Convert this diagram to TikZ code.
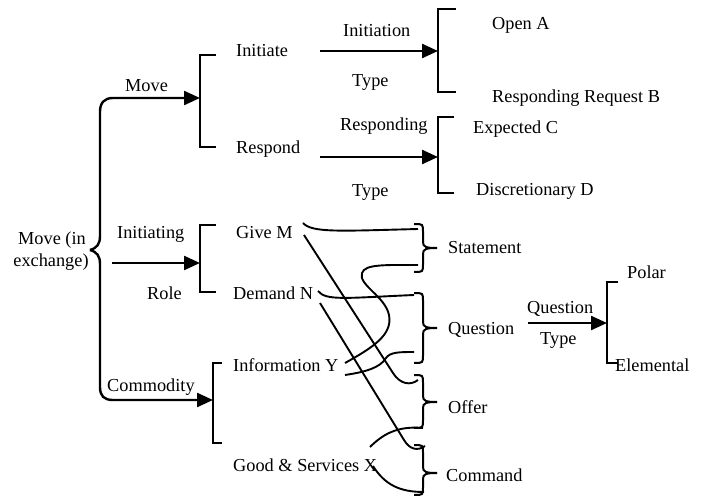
\documentclass[tikz,border=0pt]{standalone}
\usepackage{fontspec}
\setmainfont{Liberation Serif}
\usetikzlibrary{arrows.meta}
\begin{document}
\begin{tikzpicture}[x=1pt,y=-1pt,
  lbl/.style={anchor=base west,inner sep=0pt,font=\fontsize{18.3}{21}\selectfont},
  arr/.style={line width=2.4pt,-{Triangle[length=16pt,width=14pt]}},
  brk/.style={line width=2.2pt},
  brc/.style={line width=2pt},
  con/.style={line width=1.9pt}]
\useasboundingbox (0,0) rectangle (707,497);
\newcommand{\sqbr}[4]{\draw[brk] (#4,#2) -- (#1,#2) -- (#1,#3) -- (#4,#3);}
\newcommand{\crbr}[3]{%
  \draw[brc] (414,#1) .. controls (423,#1) .. (423,{#1+8}) -- (423,{#3-6}) .. controls (423,{#3-1}) and (426,#3) .. (437,#3);
  \draw[brc] (437,#3) .. controls (426,#3) and (423,{#3+1}) .. (423,{#3+6}) -- (423,{#2-8}) .. controls (423,#2) .. (414,#2);}

% texts
\node[lbl,anchor=base] (mv1) at (52,245) {Move (in};
\node[lbl,anchor=base] (mv2) at (51,266) {exchange)};
\node[lbl] (move) at (125,92) {Move};
\node[lbl] (init) at (236,57) {Initiate};
\node[lbl] (resp) at (236,154) {Respond};
\node[lbl] (initn) at (343,37) {Initiation};
\node[lbl] (type1) at (352,87) {Type};
\node[lbl] (respg) at (340,131) {Responding};
\node[lbl] (type2) at (352,197) {Type};
\node[lbl] (opena) at (492,30) {Open A};
\node[lbl] (rrb) at (492,103) {Responding Request B};
\node[lbl] (expc) at (473,134) {Expected C};
\node[lbl] (discd) at (476,196) {Discretionary D};
\node[lbl] (initg) at (117,239) {Initiating};
\node[lbl] (role) at (147,299) {Role};
\node[lbl] (give) at (236,239) {Give M};
\node[lbl] (dem) at (233,299) {Demand N};
\node[lbl] (info) at (233,371) {Information Y};
\node[lbl] (comm) at (107,391) {Commodity};
\node[lbl] (good) at (233,471) {Good \& Services X};
\node[lbl] (stat) at (448,254) {Statement};
\node[lbl] (ques) at (448,334) {Question};
\node[lbl] (offer) at (448,413) {Offer};
\node[lbl] (cmd) at (446,481) {Command};
\node[lbl] (qt1) at (527,313) {Question};
\node[lbl] (qt2) at (540,344) {Type};
\node[lbl] (polar) at (627,279) {Polar};
\node[lbl] (elem) at (615,371) {Elemental};

% square brackets
\sqbr{200}{55}{147}{216}
\sqbr{438}{9}{92}{456}
\sqbr{438}{117}{193}{454}
\sqbr{200}{225}{292}{216}
\sqbr{213}{363}{443}{222}
\sqbr{607}{282}{363}{618}

% curly braces
\crbr{224}{272}{248}
\crbr{293}{363}{328}
\crbr{375}{428}{402}
\crbr{445}{495}{473}

% coordinates
\coordinate (bt) at (90,250);
\coordinate (b1) at (200,98);
\coordinate (b2) at (438,51);
\coordinate (b3) at (438,157);
\coordinate (b4) at (200,263);
\coordinate (b5) at (213,400);
\coordinate (b6) at (607,323);
\coordinate (a1) at (320,51);
\coordinate (a2) at (320,157);
\coordinate (a4) at (112,263);
\coordinate (a6) at (528,323);

% left brace with arrows
\draw[arr] (bt) .. controls (97,248) and (100,244) .. (100,236) -- (100,112) .. controls (100,103) and (104,98) .. (113,98) -- (b1);
\draw[arr] (bt) .. controls (97,252) and (100,256) .. (100,264) -- (100,387) .. controls (100,396) and (104,400) .. (113,400) -- (b5);
\draw[arr] (a4) -- (b4);
\draw[arr] (a1) -- (b2);
\draw[arr] (a2) -- (b3);
\draw[arr] (a6) -- (b6);

% connectors
\coordinate (gA) at (303,223);
\coordinate (gB) at (304,235);
\coordinate (dA) at (318,291);
\coordinate (dB) at (320,303);
\coordinate (iA) at (345,363);
\coordinate (iB) at (345,375);
\coordinate (xA) at (370,447);
\coordinate (xB) at (373,466);
\coordinate (sT) at (418,229);
\coordinate (sB) at (418,265);
\coordinate (qT) at (414,295);
\coordinate (qB) at (414,352);
\coordinate (oT) at (418,380);
\coordinate (oB) at (423,428);
\coordinate (cT) at (425,446);
\coordinate (cB) at (424,492);

\draw[con] (gA) .. controls (312,233) and (340,231) .. (sT);
\draw[con] (gB) -- (393,373) .. controls (400,384) and (410,386) .. (oT);
\draw[con] (iA) .. controls (372,348) and (393,335) .. (389,315) .. controls (385,296) and (358,285) .. (362,273) .. controls (365,264) and (385,265) .. (sB);
\draw[con] (dA) .. controls (326,301) and (345,298) .. (qT);
\draw[con] (dB) -- (404,440) .. controls (410,450) and (418,451) .. (cT);
\draw[con] (iB) .. controls (365,372) and (380,368) .. (386,358) .. controls (390,352) and (400,352) .. (qB);
\draw[con] (xA) .. controls (385,432) and (400,426) .. (oB);
\draw[con] (xB) .. controls (385,485) and (400,492) .. (cB);
\end{tikzpicture}
\end{document}
